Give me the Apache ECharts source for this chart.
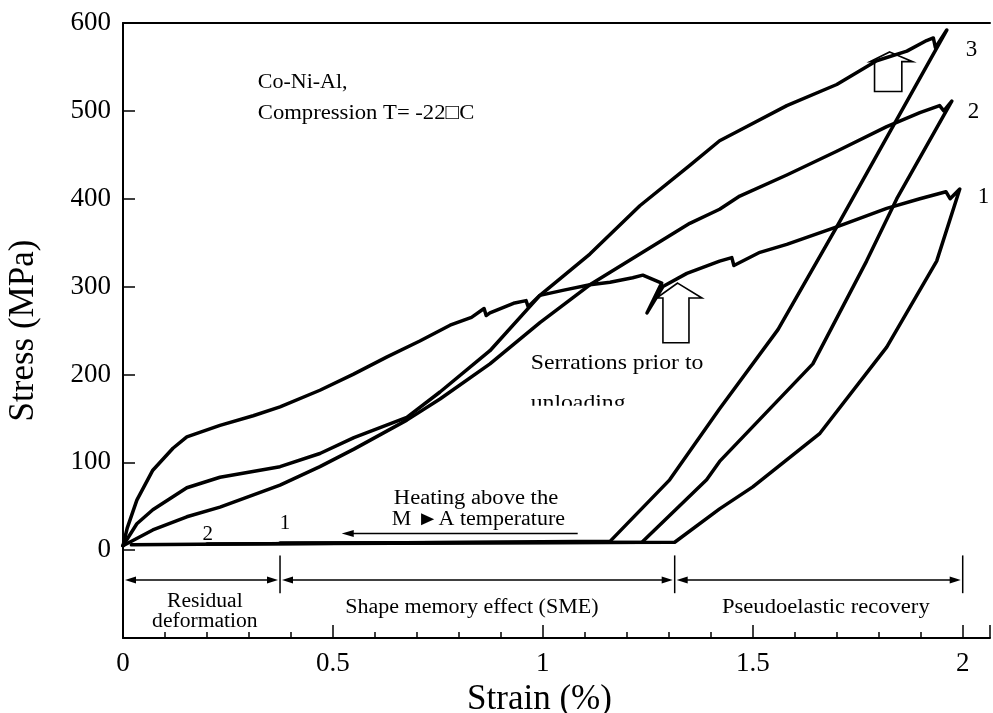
<!DOCTYPE html>
<html><head><meta charset="utf-8">
<script src="https://cdn.jsdelivr.net/npm/echarts@6/dist/echarts.min.js"></script>
<style>html,body{margin:0;padding:0;background:#fff}#c{width:993px;height:713px}</style>
</head><body><div id="c"></div>
<script>
// ---- tick labels ----
const xTicks = ['0', '0.5', '1', '1.5', '2'];
const yTicks = ['0', '100', '200', '300', '400', '500', '600'];
const curveLabels = ['1', '2', '3'];

// ---- curve 1 (loading -> unloading -> heating) ----
const strain1 = [0, 0.01, 0.033, 0.071, 0.119, 0.152, 0.231, 0.31, 0.374, 0.469, 0.548, 0.629, 0.707, 0.779, 0.83, 0.86, 0.865, 0.874, 0.93, 0.96, 0.965, 0.993, 1.05, 1.112, 1.16, 1.214, 1.238, 1.283, 1.248, 1.286, 1.343, 1.421, 1.45, 1.455, 1.517, 1.581, 1.70, 1.819, 1.898, 1.96, 1.97, 1.993,
  1.938, 1.819, 1.66, 1.50, 1.421, 1.314, 0.374];
const stress1 = [5, 25, 57, 91, 116, 129, 142, 153, 163, 182, 200, 220, 238, 256, 265, 275, 267, 270, 281, 284, 277, 290, 296, 302, 305, 310, 313, 304, 270, 300, 315, 329, 333, 324, 339, 348, 368, 389, 400, 408, 400, 411,
  329, 231, 133, 72, 47, 9, 8];

// ---- curve 2 ----
const strain2 = [0, 0.071, 0.152, 0.231, 0.374, 0.469, 0.55, 0.676, 0.755, 0.874, 0.993, 1.112, 1.231, 1.35, 1.421, 1.469, 1.581, 1.70, 1.819, 1.898, 1.945, 1.955, 1.974,
  1.843, 1.771, 1.643, 1.421, 1.39, 1.236, 0.2];
const stress2 = [5, 23, 38, 49, 74, 95, 115, 148, 172, 212, 259, 302, 337, 372, 388, 403, 427, 454, 482, 498, 506, 500, 511,
  400, 329, 212, 101, 80, 9, 7];

// ---- curve 3 ----
const strain3 = [0, 0.033, 0.071, 0.152, 0.231, 0.374, 0.469, 0.55, 0.676, 0.755, 0.874, 0.993, 1.112, 1.231, 1.35, 1.421, 1.469, 1.581, 1.70, 1.795, 1.867, 1.914, 1.93, 1.935, 1.962,
  1.70, 1.56, 1.421, 1.302, 1.16, 0.02];
const stress3 = [5, 30, 46, 71, 83, 95, 110, 128, 151, 180, 227, 290, 337, 392, 438, 466, 478, 506, 530, 557, 568, 580, 583, 572, 592,
  368, 251, 161, 80, 10, 6];

const zip = (a, b) => a.map((v, i) => [v, b[i]]);
const serif = '"Liberation Serif","Times New Roman",serif';

const option = {
  animation: false,
  backgroundColor: '#fff',
  grid: { left: 123, top: 23, right: 3, bottom: 75, containLabel: false, outerBoundsMode: 'none' },
  xAxis: [{
    type: 'value', min: 0, max: 2.065, interval: 0.5,
    name: 'Strain (%)', nameLocation: 'middle', nameGap: 33,
    nameTextStyle: { fontFamily: serif, fontSize: 35, color: '#000', padding: [0, 34, 0, 0] },
    axisLine: { show: true, onZero: false, lineStyle: { color: '#000', width: 2 } },
    axisTick: { show: true, inside: true, length: 13, lineStyle: { color: '#000', width: 1.5 } },
    minorTick: { show: true, splitNumber: 5, length: 6, lineStyle: { color: '#000', width: 1.5 } },
    splitLine: { show: false },
    axisLabel: {
      fontFamily: serif, fontSize: 27, color: '#000', margin: 12,
      formatter: v => { const k = Math.round(v / 0.5); return (Math.abs(v - k * 0.5) < 1e-6 && k < xTicks.length) ? xTicks[k] : ''; }
    }
  }, {
    type: 'value', position: 'top', min: 0, max: 2.065,
    axisLine: { show: true, onZero: false, lineStyle: { color: '#000', width: 2 } },
    axisTick: { show: false }, axisLabel: { show: false }, splitLine: { show: false }
  }],
  yAxis: {
    type: 'value', min: -100, max: 600, interval: 100,
    name: 'Stress (MPa)', nameLocation: 'middle', nameGap: 82,
    nameTextStyle: { fontFamily: serif, fontSize: 35, color: '#000' },
    axisLine: { show: true, onZero: false, lineStyle: { color: '#000', width: 2 } },
    axisTick: { show: true, inside: true, length: 12, lineStyle: { color: '#000', width: 1.5 } },
    splitLine: { show: false },
    axisLabel: {
      fontFamily: serif, fontSize: 27, color: '#000', margin: 12,
      formatter: v => v >= 0 ? yTicks[Math.round(v / 100)] : ''
    }
  },
  series: [
    { name: curveLabels[0], type: 'line', data: zip(strain1, stress1) },
    { name: curveLabels[1], type: 'line', data: zip(strain2, stress2) },
    { name: curveLabels[2], type: 'line', data: zip(strain3, stress3) }
  ].map(s => Object.assign(s, {
    showSymbol: false, symbol: 'none', z: 5,
    lineStyle: { color: '#000', width: 3.5, join: 'round', cap: 'round' }
  }))
};

const chart = echarts.init(document.getElementById('c'));
chart.setOption(option);

// ---- annotations (anchored in data space) ----
const P = (x, y) => chart.convertToPixel({ gridIndex: 0 }, [x, y]);
const g = [];
function text(str, x, y, size, align, sx) {
  const p = P(x, y);
  g.push({ type: 'text', x: p[0], y: p[1], z: 10, scaleX: sx || 1,
    style: { text: str, fill: '#000', font: size + 'px ' + serif,
      textAlign: align || 'left', align: align || 'left', textVerticalAlign: 'middle', verticalAlign: 'middle' } });
}
function seg(x1, y1, x2, y2, w) {
  g.push({ type: 'line', z: 10, shape: { x1, y1, x2, y2 }, style: { stroke: '#000', lineWidth: w || 1.5 } });
}
function head(tx, ty, dir, len, hw) { // dir: -1 left, +1 right
  g.push({ type: 'polygon', z: 10, shape: { points: [[tx, ty], [tx - dir * len, ty - hw], [tx - dir * len, ty + hw]] }, style: { fill: '#000' } });
}
function hollowArrow(xl, xsl, xc, xsr, xr, yTip, yBase, yBot) {
  const pts = [[xc, yTip], [xr, yBase], [xsr, yBase], [xsr, yBot], [xsl, yBot], [xsl, yBase], [xl, yBase]].map(q => P(q[0], q[1]));
  g.push({ type: 'polygon', z: 1, shape: { points: pts }, style: { fill: '#fff', stroke: '#000', lineWidth: 1.6 } });
}

text('Co-Ni-Al,', 0.321, 533, 22);
text('Compression T= -22\u25A1C', 0.321, 497, 22, 'left', 1.03);
text(curveLabels[2], 2.007, 569, 23);
text(curveLabels[1], 2.012, 499, 23);
text(curveLabels[0], 2.036, 402, 23);
text('Serrations prior to', 0.971, 213, 21, 'left', 1.13);
text('unloading', 0.971, 167, 21, 'left', 1.13);
(function () { const a = P(0.96, 166), b = P(1.3, 142); g.push({ type: 'rect', z: 11, shape: { x: a[0], y: a[1] + 1.5, width: b[0] - a[0], height: b[1] - a[1] }, style: { fill: '#fff' } }); })();
text('Heating above the', 0.645, 58, 20, 'left', 1.13);
text('M \u25BAA temperature', 0.64, 35, 20, 'left', 1.1);
text(curveLabels[1], 0.202, 18, 21, 'center');
text(curveLabels[0], 0.386, 30, 21, 'center');

// heating arrow
(function () { const a = P(1.083, 19), b = P(0.521, 19); seg(a[0], a[1], b[0] + 8, b[1], 1.5); head(b[0], b[1], -1, 12, 3.5); })();

// hollow arrows
hollowArrow(1.271, 1.286, 1.321, 1.348, 1.379, 304, 287, 236);
hollowArrow(1.779, 1.790, 1.826, 1.855, 1.881, 567, 556, 522);

// dimension lines
const dimStops = [0, 0.374, 1.314, 2.0];
for (let i = 1; i < dimStops.length; i++) { const a = P(dimStops[i], -6), b = P(dimStops[i], -49); seg(a[0], a[1], b[0], b[1], 1.5); }
for (let i = 0; i < dimStops.length - 1; i++) {
  const a = P(dimStops[i], -34), b = P(dimStops[i + 1], -34);
  const ax = a[0] + 2, bx = b[0] - 2;
  seg(ax + 8, a[1], bx - 8, b[1], 1.5);
  head(ax, a[1], -1, 11, 3.5); head(bx, b[1], 1, 11, 3.5);
}
text('Residual', 0.195, -59, 20, 'center', 1.08);
text('deformation', 0.195, -81, 20, 'center', 1.08);
text('Shape memory effect (SME)', 0.831, -65, 20, 'center', 1.1);
text('Pseudoelastic recovery', 1.674, -65, 20, 'center', 1.13);

chart.setOption({ graphic: g });
</script></body></html>
